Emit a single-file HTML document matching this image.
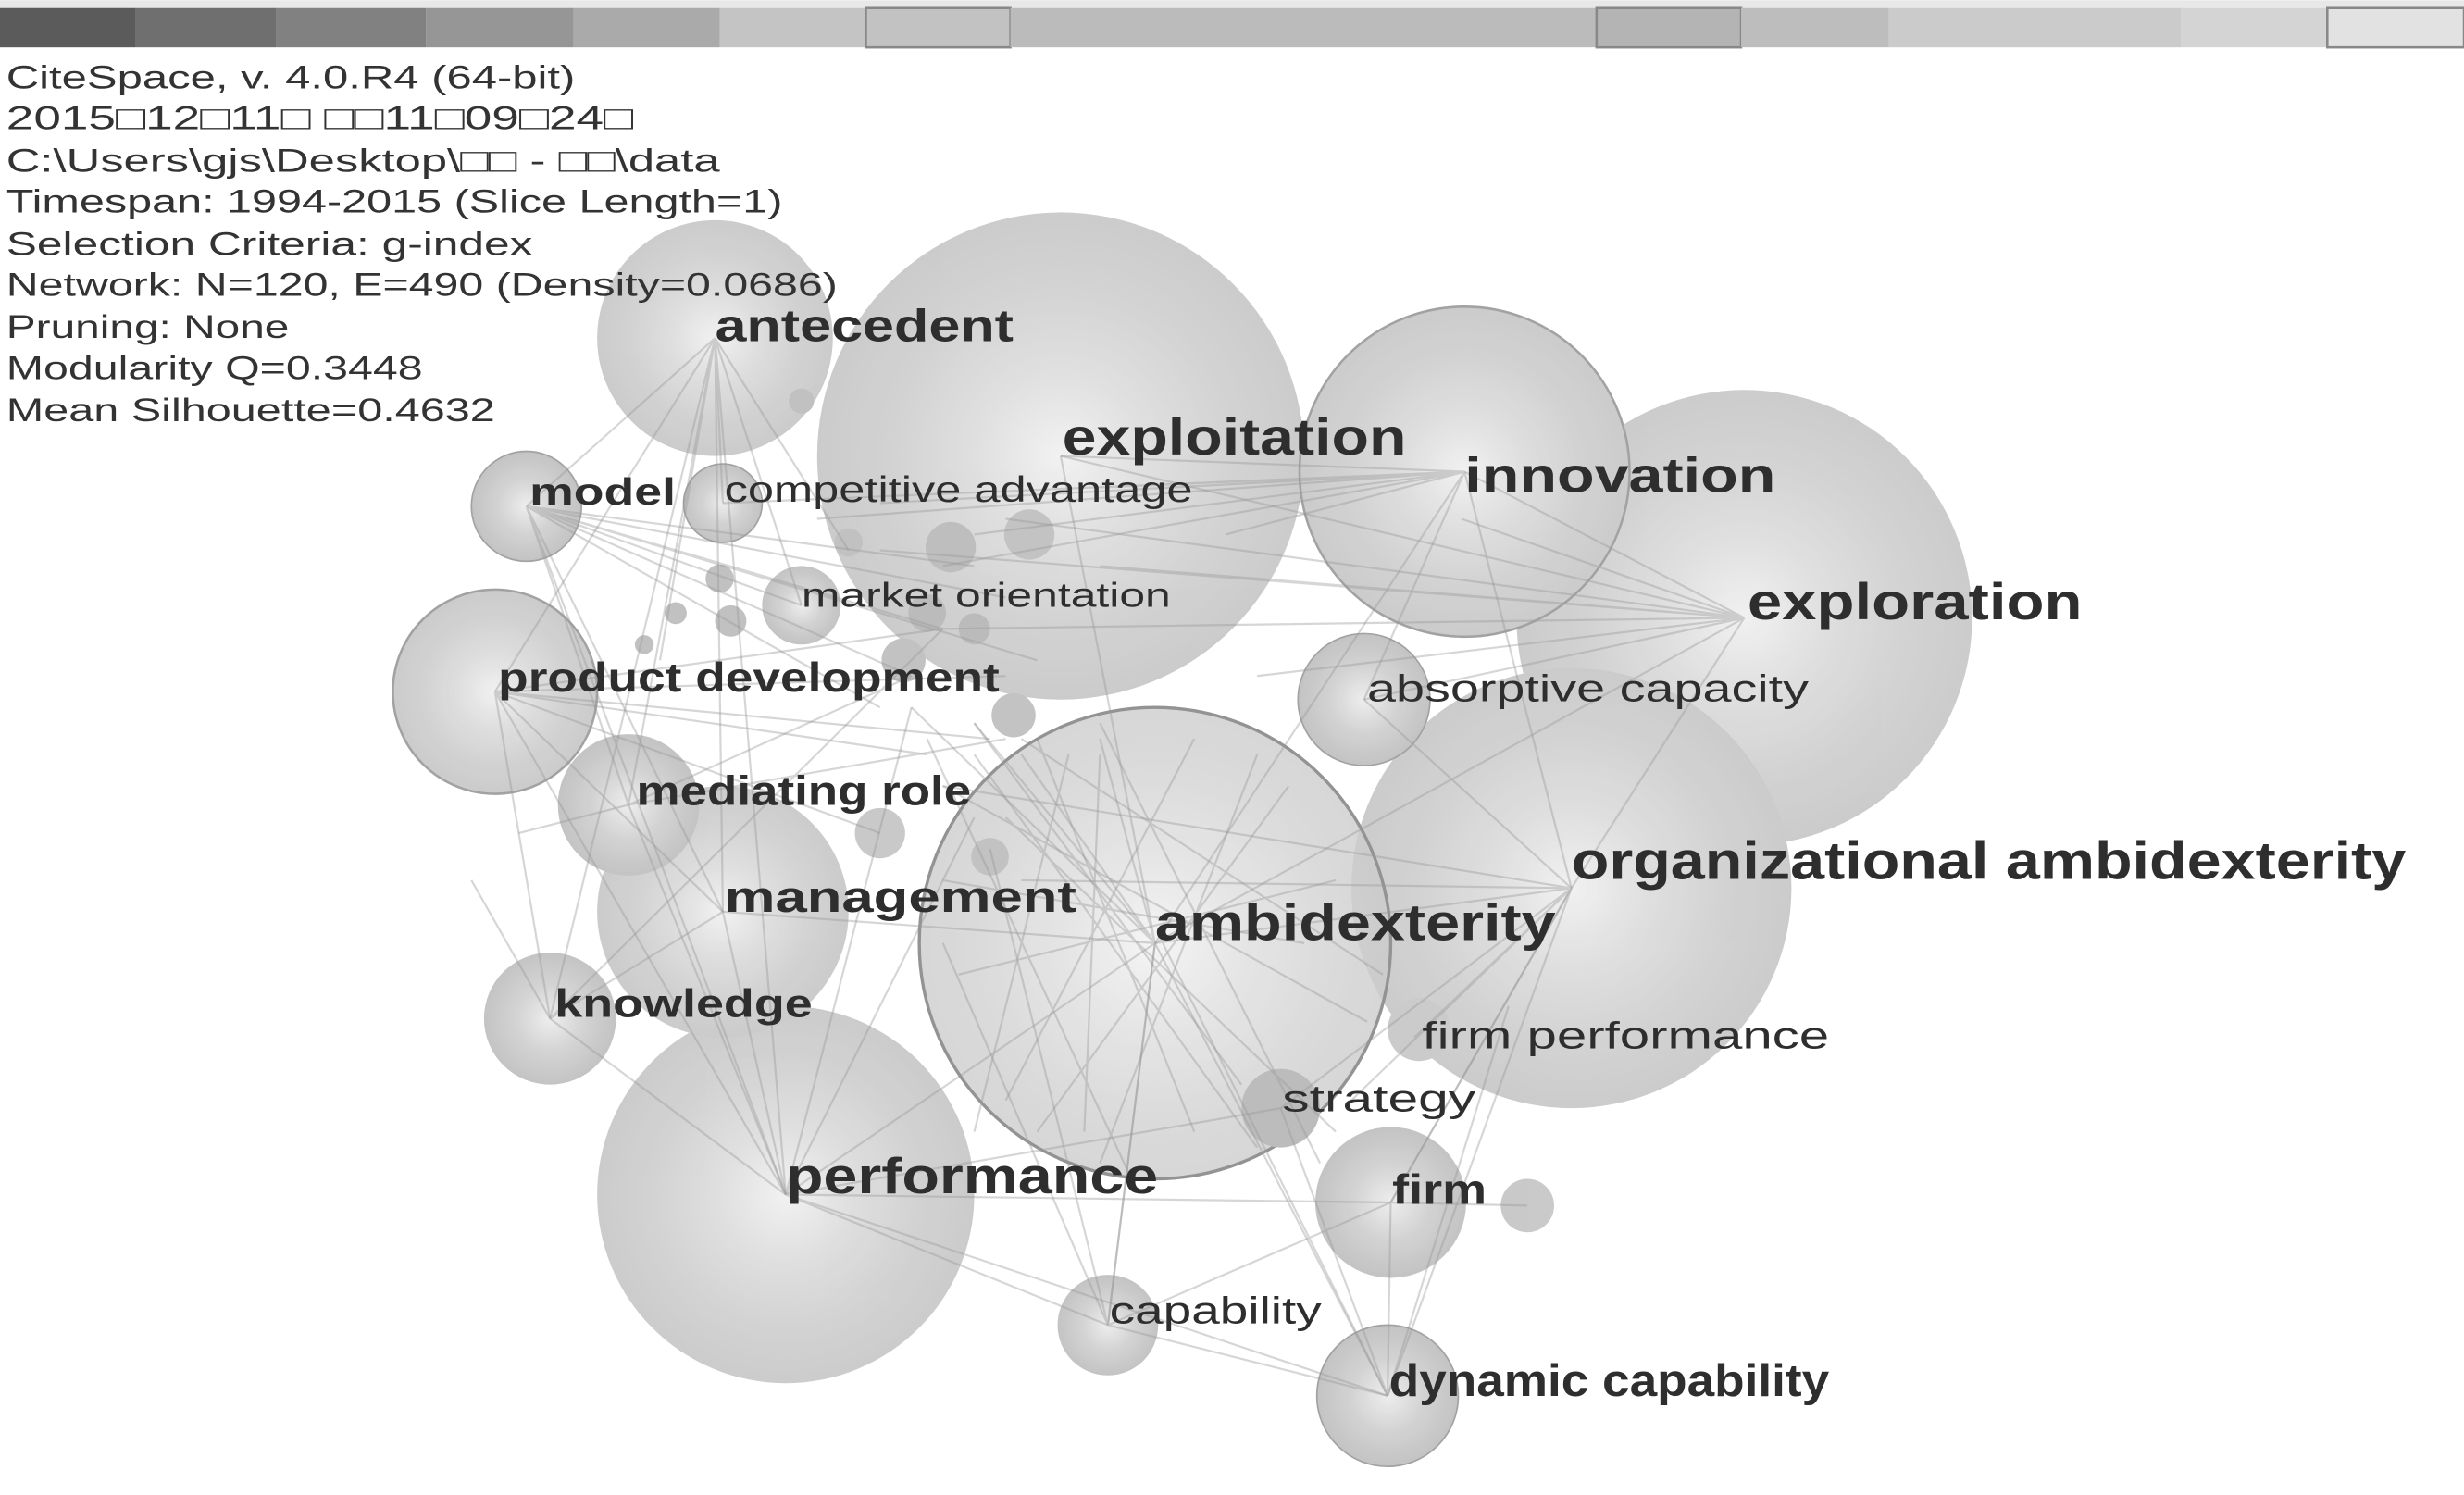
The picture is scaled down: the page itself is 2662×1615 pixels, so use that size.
<!DOCTYPE html>
<html><head><meta charset="utf-8"><style>
html,body{margin:0;padding:0;background:#fff;width:2662px;height:1615px;overflow:hidden}
svg{display:block}
text{font-family:"Liberation Sans","Noto Sans CJK SC",sans-serif}
.lb{fill:#2e2e2e;font-weight:bold}
.inf{fill:#333;font-size:21px}
</style></head><body>
<svg width="2662" height="1615" viewBox="0 0 1568 951" xmlns="http://www.w3.org/2000/svg">
<defs>
<radialGradient id="g"><stop offset="0" stop-color="#f0f0f0"/><stop offset="0.35" stop-color="#dcdcdc"/><stop offset="0.7" stop-color="#cecece"/><stop offset="1" stop-color="#c6c6c6"/></radialGradient>
<radialGradient id="g2"><stop offset="0" stop-color="#ececec"/><stop offset="0.5" stop-color="#cfcfcf"/><stop offset="1" stop-color="#bdbdbd"/></radialGradient>
</defs>
<rect x="0" y="0" width="1568" height="5" fill="#e8e8e8"/>
<g>
<rect x="0" y="5" width="86" height="25" fill="#5b5b5b"/>
<rect x="86" y="5" width="90" height="25" fill="#6f6f6f"/>
<rect x="176" y="5" width="95" height="25" fill="#818181"/>
<rect x="271" y="5" width="94" height="25" fill="#969696"/>
<rect x="365" y="5" width="93" height="25" fill="#aaaaaa"/>
<rect x="458" y="5" width="93" height="25" fill="#c4c4c4"/>
<rect x="551" y="5" width="92" height="25" fill="#c2c2c2" stroke="#888" stroke-width="1.5"/>
<rect x="643" y="5" width="373" height="25" fill="#bbbbbb"/>
<rect x="1016" y="5" width="92" height="25" fill="#b4b4b4" stroke="#888" stroke-width="1.5"/>
<rect x="1108" y="5" width="94" height="25" fill="#bdbdbd"/>
<rect x="1202" y="5" width="186" height="25" fill="#cbcbcb"/>
<rect x="1388" y="5" width="93" height="25" fill="#d4d4d4"/>
<rect x="1481" y="5" width="87" height="25" fill="#e2e2e2" stroke="#888" stroke-width="1.5"/>
</g>
<g opacity="0.9">
<circle cx="675" cy="290" r="155" fill="url(#g)"/>
<circle cx="1110" cy="393" r="145" fill="url(#g)"/>
<circle cx="1000" cy="565" r="140" fill="url(#g)"/>
<circle cx="932" cy="300" r="105" fill="url(#g)" stroke="#999" stroke-width="1.5"/>
<circle cx="500" cy="760" r="120" fill="url(#g)"/>
<circle cx="455" cy="215" r="75" fill="url(#g)"/>
<circle cx="460" cy="580" r="80" fill="url(#g)"/>
<circle cx="735" cy="600" r="150" fill="url(#g)" fill-opacity="0.8" stroke="#888" stroke-width="2"/>
<circle cx="315" cy="440" r="65" fill="url(#g)" stroke="#999" stroke-width="1.5"/>
<circle cx="400" cy="512" r="45" fill="url(#g2)"/>
<circle cx="335" cy="322" r="35" fill="url(#g2)" stroke="#999"/>
<circle cx="350" cy="648" r="42" fill="url(#g2)"/>
<circle cx="868" cy="445" r="42" fill="url(#g2)" stroke="#999"/>
<circle cx="885" cy="765" r="48" fill="url(#g2)"/>
<circle cx="705" cy="843" r="32" fill="url(#g2)"/>
<circle cx="883" cy="888" r="45" fill="url(#g2)" stroke="#999"/>
<circle cx="815" cy="705" r="25" fill="#b5b5b5"/>
<circle cx="972" cy="767" r="17" fill="#c4c4c4"/>
<circle cx="460" cy="320" r="25" fill="url(#g2)" stroke="#999"/>
<circle cx="510" cy="385" r="25" fill="url(#g2)"/>
<circle cx="605" cy="348" r="16" fill="#b8b8b8"/>
<circle cx="655" cy="340" r="16" fill="#bdbdbd"/>
<circle cx="630" cy="545" r="12" fill="#bcbcbc"/>
<circle cx="560" cy="530" r="16" fill="#c4c4c4"/>
<circle cx="645" cy="455" r="14" fill="#bdbdbd"/>
<circle cx="575" cy="420" r="14" fill="#bcbcbc"/>
<circle cx="465" cy="395" r="10" fill="#bbb"/>
<circle cx="458" cy="368" r="9" fill="#bbb"/>
<circle cx="510" cy="255" r="8" fill="#bbb"/>
<circle cx="903" cy="655" r="20" fill="#c6c6c6"/>
<circle cx="590" cy="390" r="12" fill="#b4b4b4"/>
<circle cx="620" cy="400" r="10" fill="#b4b4b4"/>
<circle cx="540" cy="345" r="9" fill="#bbb"/>
<circle cx="430" cy="390" r="7" fill="#bbb"/>
<circle cx="410" cy="410" r="6" fill="#bbb"/>
</g>
<g stroke="#999" stroke-opacity="0.4" stroke-width="1.3" fill="none">
<path d="M1110 393L932 300M1110 393L675 290M1110 393L735 600M1110 393L868 445M1110 393L1000 565M1110 393L560 350M1110 393L600 400M1110 393L640 330M1110 393L700 360M1110 393L800 430M1110 393L930 330"/>
<path d="M932 300L675 290M932 300L735 600M932 300L520 330M932 300L600 360M932 300L868 445M932 300L460 320M932 300L560 320M932 300L620 340M932 300L700 310M932 300L780 340M932 300L1000 565"/>
<path d="M1000 565L735 600M1000 565L885 765M1000 565L883 888M1000 565L868 445M1000 565L815 705M1000 565L600 500M1000 565L650 560M1000 565L900 660M1000 565L860 700"/>
<path d="M735 600L500 760M735 600L705 843M735 600L883 888M735 600L460 580M735 600L675 290M735 600L620 460M735 600L580 450M735 600L650 480M735 600L700 470"/>
<path d="M660 470L760 720M620 480L800 730M700 460L840 740M590 470L720 750M640 520L850 720M680 480L620 720M600 500L870 650M620 460L790 690M700 480L690 720M760 470L640 700M800 480L700 740M820 500L660 720M600 560L830 600M610 620L850 560M650 470L880 620"/>
<path d="M455 215L315 440M455 215L335 322M455 215L460 320M455 215L400 512M455 215L510 385M455 215L350 648M455 215L500 760M455 215L460 580M455 215L420 420M455 215L540 350"/>
<path d="M335 322L510 385M335 322L600 400M335 322L460 580M335 322L400 512M335 322L560 450M335 322L620 360M335 322L500 760M335 322L580 430M335 322L640 380M335 322L660 420"/>
<path d="M315 440L600 400M315 440L460 580M315 440L500 760M315 440L630 470M315 440L560 530M315 440L640 430M315 440L590 480M315 440L350 648"/>
<path d="M500 760L705 843M500 760L350 648M500 760L460 580M500 760L400 512M500 760L885 765M500 760L580 450M500 760L620 520M500 760L883 888M500 760L815 705"/>
<path d="M705 843L883 888M705 843L885 765M705 843L630 540M705 843L600 600M883 888L885 765M883 888L815 705M883 888L960 640M885 765L972 767M885 765L1000 565M883 888L740 600M705 843L735 600"/>
<path d="M330 530L400 512M300 560L350 648M350 648L460 580M400 512L580 430M350 648L600 400M400 512L640 470"/>
</g>
<g class="inf">
<text x="4" y="56" textLength="362" lengthAdjust="spacingAndGlyphs">CiteSpace, v. 4.0.R4 (64-bit)</text>
<text x="4" y="82" textLength="399" lengthAdjust="spacingAndGlyphs">2015□12□11□ □□11□09□24□</text>
<text x="4" y="109" textLength="454" lengthAdjust="spacingAndGlyphs">C:\Users\gjs\Desktop\□□ - □□\data</text>
<text x="4" y="135" textLength="494" lengthAdjust="spacingAndGlyphs">Timespan: 1994-2015 (Slice Length=1)</text>
<text x="4" y="162" textLength="335" lengthAdjust="spacingAndGlyphs">Selection Criteria: g-index</text>
<text x="4" y="188" textLength="529" lengthAdjust="spacingAndGlyphs">Network: N=120, E=490 (Density=0.0686)</text>
<text x="4" y="215" textLength="180" lengthAdjust="spacingAndGlyphs">Pruning: None</text>
<text x="4" y="241" textLength="265" lengthAdjust="spacingAndGlyphs">Modularity Q=0.3448</text>
<text x="4" y="268" textLength="311" lengthAdjust="spacingAndGlyphs">Mean Silhouette=0.4632</text>
</g>
<g class="lb">
<text x="455" y="217" font-size="29" textLength="190" lengthAdjust="spacingAndGlyphs">antecedent</text>
<text x="676" y="289" font-size="33" textLength="219" lengthAdjust="spacingAndGlyphs">exploitation</text>
<text x="932" y="313" font-size="31" textLength="198" lengthAdjust="spacingAndGlyphs">innovation</text>
<text x="1112" y="394" font-size="33" textLength="213" lengthAdjust="spacingAndGlyphs">exploration</text>
<text x="337" y="321" font-size="24" textLength="93" lengthAdjust="spacingAndGlyphs">model</text>
<text x="461" y="319" font-size="23" font-weight="normal" textLength="298" lengthAdjust="spacingAndGlyphs">competitive advantage</text>
<text x="510" y="386" font-size="22" font-weight="normal" textLength="235" lengthAdjust="spacingAndGlyphs">market orientation</text>
<text x="317" y="440" font-size="26" textLength="319" lengthAdjust="spacingAndGlyphs">product development</text>
<text x="870" y="446" font-size="24" font-weight="normal" textLength="281" lengthAdjust="spacingAndGlyphs">absorptive capacity</text>
<text x="405" y="512" font-size="26" textLength="213" lengthAdjust="spacingAndGlyphs">mediating role</text>
<text x="1000" y="559" font-size="34" textLength="531" lengthAdjust="spacingAndGlyphs">organizational ambidexterity</text>
<text x="461" y="580" font-size="28" textLength="224" lengthAdjust="spacingAndGlyphs">management</text>
<text x="735" y="598" font-size="33" textLength="255" lengthAdjust="spacingAndGlyphs">ambidexterity</text>
<text x="353" y="647" font-size="25" textLength="164" lengthAdjust="spacingAndGlyphs">knowledge</text>
<text x="905" y="667" font-size="24" font-weight="normal" textLength="259" lengthAdjust="spacingAndGlyphs">firm performance</text>
<text x="816" y="707" font-size="24" font-weight="normal" textLength="123" lengthAdjust="spacingAndGlyphs">strategy</text>
<text x="500" y="759" font-size="32" textLength="237" lengthAdjust="spacingAndGlyphs">performance</text>
<text x="886" y="766" font-size="27" textLength="60" lengthAdjust="spacingAndGlyphs">firm</text>
<text x="706" y="842" font-size="24" font-weight="normal" textLength="135" lengthAdjust="spacingAndGlyphs">capability</text>
<text x="884" y="888" font-size="29" textLength="280" lengthAdjust="spacingAndGlyphs">dynamic capability</text>
</g>
</svg>
</body></html>
